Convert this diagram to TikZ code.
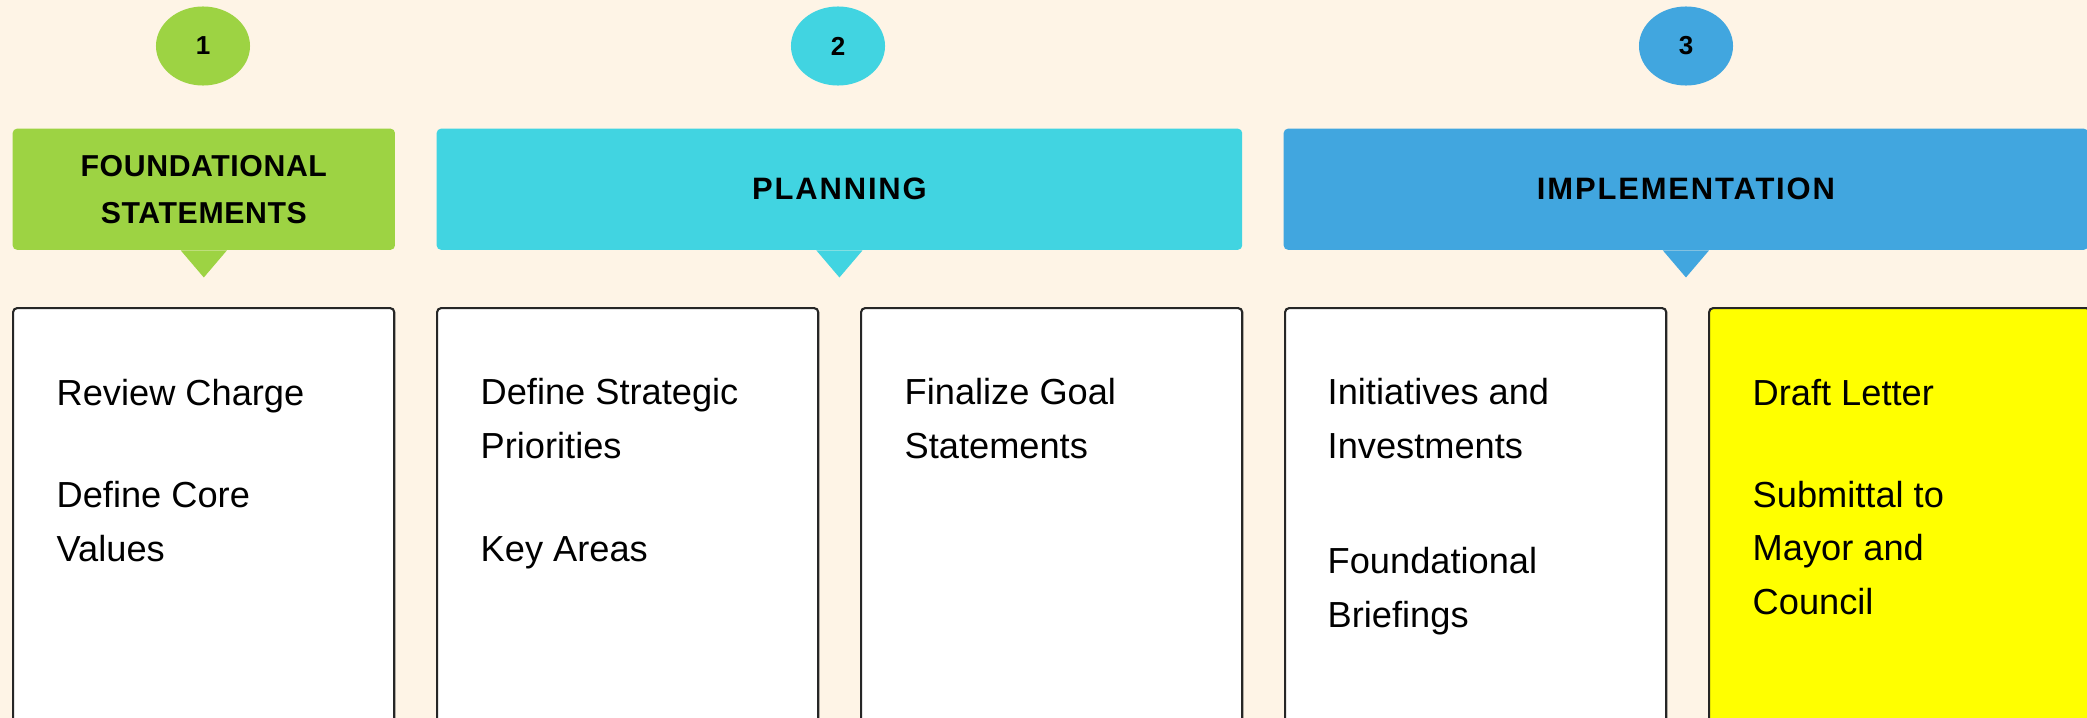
\documentclass[tikz,border=0pt]{standalone}
\usepackage{fontspec}
\setmainfont{Liberation Sans}
\newfontfamily\headfont[LetterSpace=6]{Liberation Sans}
\newfontfamily\headfontnarrow[LetterSpace=2]{Liberation Sans}
\usetikzlibrary{shapes.geometric}

\definecolor{paper}{HTML}{FEF4E6}
\definecolor{phasegreen}{HTML}{9DD343}
\definecolor{phasecyan}{HTML}{41D4E1}
\definecolor{phaseblue}{HTML}{41A6DF}
\definecolor{draftyellow}{HTML}{FFFF00}

\begin{document}
\begin{tikzpicture}[x=0.01cm, y=-0.01cm]
    \tikzset{num/.style={ellipse, minimum width=0.94cm, minimum height=0.79cm, inner sep=0pt,
                         font=\fontsize{7.4}{8}\selectfont\bfseries},
             banner/.style={anchor=north west, minimum height=1.21cm, rounded corners=1.2pt,
                            inner sep=0pt, align=center, font=\fontsize{8.8}{13.4}\headfont\bfseries},
             card/.style={draw=black!85, line width=0.6pt, rounded corners=1.2pt, fill=white,
                          anchor=north west, minimum width=3.81cm, minimum height=4.6cm},
             item/.style={anchor=base west, inner sep=0pt, align=left,
                          font=\fontsize{10.3}{15.1}\selectfont}};

    % Background
    \clip (0, 0) rectangle (2087, 718);
    \fill[paper] (0, 0) rectangle (2087, 718);

    % Steps
    \node[num, fill=phasegreen] (n1) at (203, 46) {1};
    \node[num, fill=phasecyan]  (n2) at (838, 46) {2};
    \node[num, fill=phaseblue]  (n3) at (1686, 46) {3};

    % Banners
    \node[banner, fill=phasegreen, minimum width=3.82cm,
          font=\fontsize{8.6}{13.4}\headfontnarrow\bfseries] (b1) at (12, 128)
          {FOUNDATIONAL\\STATEMENTS};
    \node[banner, fill=phasecyan, minimum width=8.05cm] (b2) at (436, 128) {PLANNING};
    \node[banner, fill=phaseblue, minimum width=8.04cm] (b3) at (1283, 128) {IMPLEMENTATION};

    % Pointers
    \foreach \b/\c in {b1/phasegreen, b2/phasecyan, b3/phaseblue} {
        \fill[\c] (\b.south) ++(-23, 0) -- ++(46, 0) -- ++(-23, 27) -- cycle;
    }

    % Cards
    \node[card] (c1) at (12, 307) {};
    \node[card] (c2) at (436, 307) {};
    \node[card] (c3) at (860, 307) {};
    \node[card] (c4) at (1284, 307) {};
    \node[card, fill=draftyellow] (c5) at (1708, 307) {};

    % Texts (anchored at the last line)
    \node[item] (t1a) at (56, 405) {Review Charge};
    \node[item] (t1b) at (56, 561) {Define Core\\Values};

    \node[item] (t2a) at (480, 458) {Define Strategic\\Priorities};
    \node[item] (t2b) at (480, 561) {Key Areas};

    \node[item] (t3a) at (904, 458) {Finalize Goal\\Statements};

    \node[item] (t4a) at (1327, 458) {Initiatives and\\Investments};
    \node[item] (t4b) at (1327, 627) {Foundational\\Briefings};

    \node[item] (t5a) at (1752, 405) {Draft Letter};
    \node[item] (t5b) at (1752, 614) {Submittal to\\Mayor and\\Council};
\end{tikzpicture}
\end{document}
